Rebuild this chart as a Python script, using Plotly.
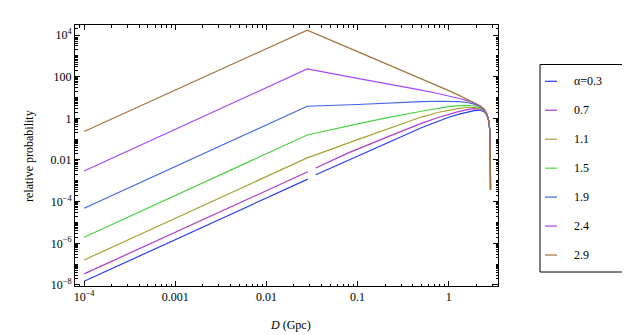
import plotly.graph_objects as go

# distances (Gpc) shared by the curves without a break
D_common = [1e-4, 0.028, 0.1, 0.22, 0.5, 0.78, 1.0, 1.3, 1.6, 1.9, 2.2, 2.45, 2.62, 2.75, 2.82, 2.85, 2.87]
# the two lowest curves have a small break just above 0.028 Gpc
D_broken = [1e-4, 0.0284, None, 0.0348, 0.079, 0.22, 0.5, 0.78, 1.0, 1.3, 1.6, 1.9, 2.2, 2.45, 2.62, 2.75, 2.82, 2.85, 2.87]

p_a03 = [1.5e-8, 0.0012, None, 0.00195, 0.0093, 0.071, 0.355, 0.78, 1.12, 1.58, 2.0, 2.34, 2.5, 2.04, 1.41, 0.72, 0.25, 0.063, 0.00037]
p_a07 = [3.4e-8, 0.0027, None, 0.0041, 0.022, 0.135, 0.575, 1.12, 1.58, 2.14, 2.63, 2.9, 2.8, 2.14, 1.45, 0.72, 0.25, 0.063, 0.00037]
p_a11 = [1.58e-7, 0.0126, 0.095, 0.33, 1.15, 1.95, 2.5, 3.0, 3.3, 3.3, 2.95, 2.24, 1.48, 0.74, 0.25, 0.063, 0.00037]
p_a15 = [1.95e-6, 0.158, 0.54, 1.12, 2.19, 3.1, 3.63, 4.07, 4.17, 3.9, 3.16, 2.34, 1.51, 0.74, 0.25, 0.063, 0.00037]
p_a19 = [4.8e-5, 3.8, 4.6, 5.5, 6.3, 6.6, 6.6, 6.3, 5.75, 4.8, 3.7, 2.5, 1.55, 0.76, 0.25, 0.063, 0.00037]
p_a24 = [0.00295, 234, 83, 44.7, 22.4, 15.1, 12.0, 8.9, 7.1, 5.5, 4.0, 2.5, 1.58, 0.76, 0.26, 0.063, 0.00037]
p_a29 = [0.234, 17000, 1600, 372, 77.6, 33.9, 21.4, 12.6, 8.1, 5.6, 3.9, 2.8, 1.62, 0.78, 0.26, 0.063, 0.00037]

labels = ["α=0.3", "0.7", "1.1", "1.5", "1.9", "2.4", "2.9"]
colors = ["#2a3cf0", "#b03cc4", "#a8a232", "#4ed246", "#4065e4", "#a448f8", "#a4743c"]

series = [(D_broken, p_a03), (D_broken, p_a07), (D_common, p_a11), (D_common, p_a15),
          (D_common, p_a19), (D_common, p_a24), (D_common, p_a29)]

FONT = "Liberation Serif"

fig = go.Figure()
for (xs, ys), name, col in zip(series, labels, colors):
    fig.add_trace(go.Scatter(x=xs, y=ys, mode="lines", name=name,
                             line=dict(color=col, width=1.2), connectgaps=False,
                             showlegend=False))

# tick positions / labels
x_major = [1e-4, 1e-3, 1e-2, 1e-1, 1]
x_text = ["10<sup>−4</sup>", "0.001", "0.01", "0.1", "1"]
x_minor = [m * 10 ** e for e in range(-5, 1) for m in range(2, 10)]
y_major = [1e-8, 1e-6, 1e-4, 1e-2, 1, 100, 1e4]
y_text = ["10<sup>−8</sup>", "10<sup>−6</sup>", "10<sup>−4</sup>", "0.01", "1", "100", "10<sup>4</sup>"]
y_minor = [m * 10 ** e for e in range(-9, 5) for m in range(1, 10) if not (m == 1 and e % 2 == 0)]

axis_common = dict(type="log", showline=True, linecolor="black", linewidth=1, mirror="allticks",
                   ticks="inside", ticklen=5, tickwidth=1, tickcolor="black",
                   showgrid=False, zeroline=False, tickmode="array", automargin=False,
                   tickfont=dict(family=FONT, size=12, color="black"))

fig.update_xaxes(range=[-4.1, 0.54], tickvals=x_major, ticktext=x_text,
                 minor=dict(tickmode="array", tickvals=x_minor, ticks="inside", ticklen=2.5,
                            tickcolor="black", showgrid=False),
                 **axis_common)
fig.update_yaxes(range=[-8.05, 4.48], tickvals=y_major, ticktext=y_text,
                 minor=dict(tickmode="array", tickvals=y_minor, ticks="inside", ticklen=2.5,
                            tickcolor="black", showgrid=False),
                 **axis_common)

# plot frame in pixels, used to place the legend and axis titles
L, R, T, B = 67, 490, 17, 278
def px(xp): return (xp - L) / (R - L)
def py(yp): return (B - yp) / (B - T)

annotations = [
    dict(xref="paper", yref="paper", x=px(282), y=py(317), text="<i>D</i> (Gpc)", showarrow=False,
         xanchor="center", yanchor="middle", font=dict(family=FONT, size=12, color="black")),
    dict(xref="paper", yref="paper", x=px(21), y=py(148), text="relative probability", showarrow=False,
         textangle=-90, xanchor="center", yanchor="middle", font=dict(family=FONT, size=12, color="black")),
]

# hand-built legend box like the original
shapes = [dict(type="rect", xref="paper", yref="paper", x0=px(532), x1=px(616.5), y0=py(264), y1=py(56.5),
               line=dict(color="black", width=1), fillcolor="white")]
for i, (name, col) in enumerate(zip(labels, colors)):
    yy = 73.3 + i * 28.95
    shapes.append(dict(type="line", xref="paper", yref="paper", x0=px(537), x1=px(549),
                       y0=py(yy), y1=py(yy), line=dict(color=col, width=1.2)))
    annotations.append(dict(xref="paper", yref="paper", x=px(564), y=py(yy), text=name,
                            showarrow=False, xanchor="left", yanchor="middle",
                            font=dict(family=FONT, size=12, color="black")))

fig.update_layout(width=630, height=335, margin=dict(l=L, r=630 - R, t=T, b=335 - B),
                  plot_bgcolor="white", paper_bgcolor="white",
                  shapes=shapes, annotations=annotations, showlegend=False,
                  font=dict(family=FONT, size=12, color="black"))

fig.write_html("out.html")
